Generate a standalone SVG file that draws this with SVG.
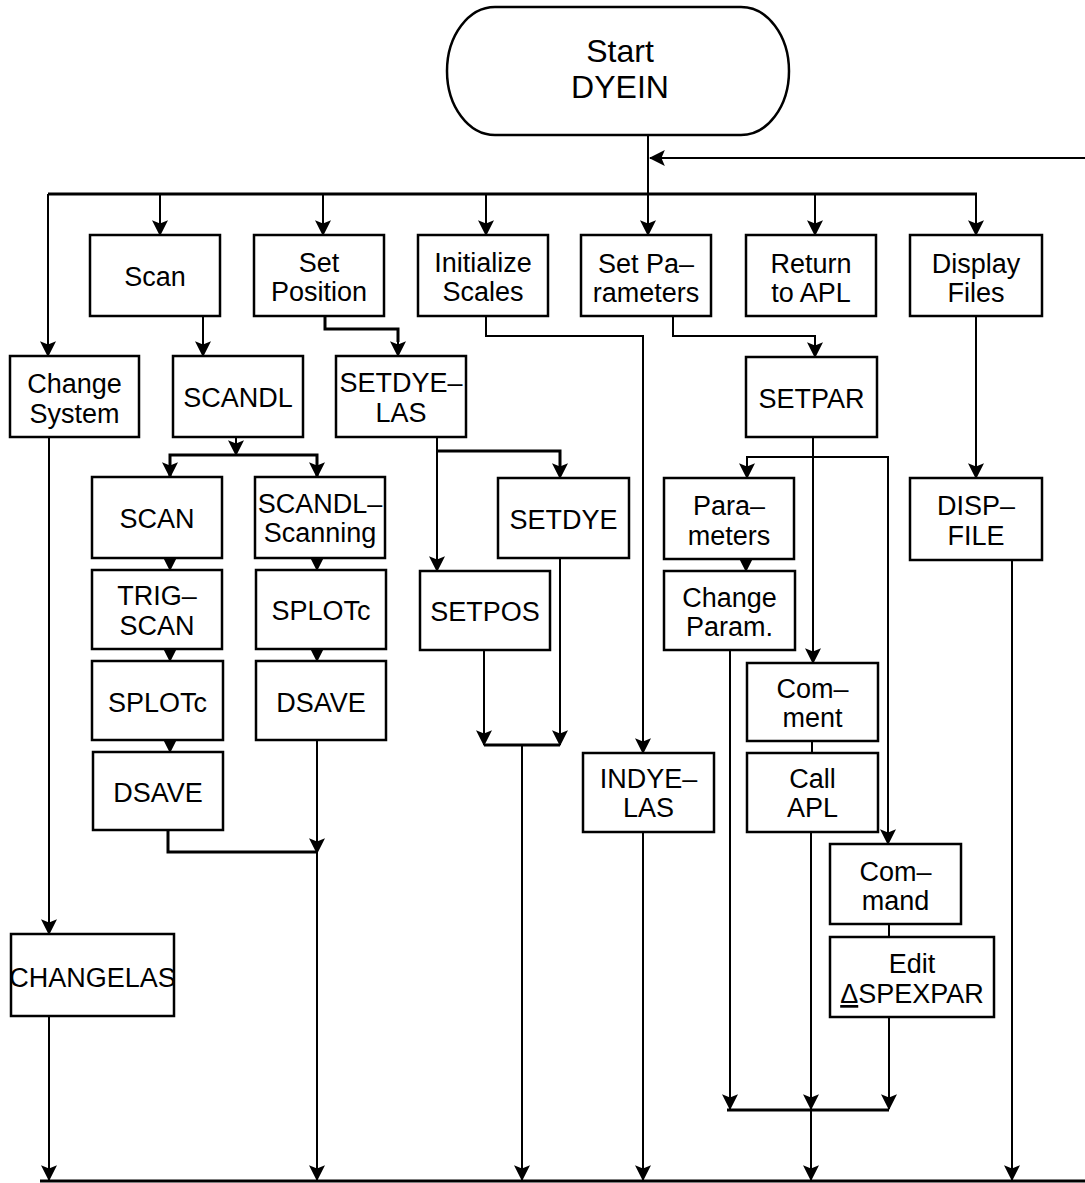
<svg xmlns="http://www.w3.org/2000/svg" width="1085" height="1183" viewBox="0 0 1085 1183">
<style>
.box{fill:#fff;stroke:#000;stroke-width:2.5}
.lbl{font-family:"Liberation Sans",Arial,sans-serif;font-size:27px;fill:#000;text-anchor:middle}
.big{font-size:32px}
.ln{fill:none;stroke:#000;stroke-width:2}
.bus{fill:none;stroke:#000;stroke-width:3}
</style>
<defs>
<marker id="ah" viewBox="0 0 14 14" markerWidth="16" markerHeight="16" refX="13" refY="7" orient="auto" markerUnits="userSpaceOnUse">
<path d="M0,0 L14,7 L0,14 L3,7 z" fill="#000"/>
</marker>
</defs>
<rect width="1085" height="1183" fill="#fff"/>
<g id="connectors">
<path class="ln" d="M648,135 V235" marker-end="url(#ah)"/>
<path class="ln" d="M1085,158 H650" marker-end="url(#ah)"/>
<path class="bus" d="M48,194 H977"/>
<path class="ln" d="M48,194 V356" marker-end="url(#ah)"/>
<path class="ln" d="M160,194 V235" marker-end="url(#ah)"/>
<path class="ln" d="M323,194 V235" marker-end="url(#ah)"/>
<path class="ln" d="M486,194 V235" marker-end="url(#ah)"/>
<path class="ln" d="M815,194 V235" marker-end="url(#ah)"/>
<path class="ln" d="M976,194 V235" marker-end="url(#ah)"/>
<path class="ln" d="M203,316 V356" marker-end="url(#ah)"/>
<path class="bus" d="M325,316 V329 H398 V342"/>
<path class="ln" d="M398,340 V356" marker-end="url(#ah)"/>
<path class="ln" d="M486,316 V336 H643 V753" marker-end="url(#ah)"/>
<path class="ln" d="M673,316 V336 H815 V357" marker-end="url(#ah)"/>
<path class="ln" d="M976,316 V478" marker-end="url(#ah)"/>
<path class="ln" d="M49,437 V934" marker-end="url(#ah)"/>
<path class="ln" d="M49,1016 V1180" marker-end="url(#ah)"/>
<path class="ln" d="M236,437 V455" marker-end="url(#ah)"/>
<path class="bus" d="M170,477 V455 H317 V477"/>
<path class="ln" d="M170,462 V477" marker-end="url(#ah)"/>
<path class="ln" d="M317,462 V477" marker-end="url(#ah)"/>
<path class="ln" d="M170,558 V570" marker-end="url(#ah)"/>
<path class="ln" d="M170,649 V661" marker-end="url(#ah)"/>
<path class="ln" d="M170,740 V752" marker-end="url(#ah)"/>
<path class="ln" d="M317,558 V570" marker-end="url(#ah)"/>
<path class="ln" d="M317,649 V661" marker-end="url(#ah)"/>
<path class="bus" d="M168,830 V852 H317"/>
<path class="ln" d="M317,740 V1180" marker-end="url(#ah)"/>
<path class="ln" d="M317,838 V853" marker-end="url(#ah)"/>
<path class="ln" d="M437,437 V571" marker-end="url(#ah)"/>
<path class="bus" d="M437,451 H560 V466"/>
<path class="ln" d="M560,464 V478" marker-end="url(#ah)"/>
<path class="ln" d="M484,649 V745" marker-end="url(#ah)"/>
<path class="ln" d="M560,558 V745" marker-end="url(#ah)"/>
<path class="bus" d="M484,745 H560"/>
<path class="ln" d="M522,745 V1180" marker-end="url(#ah)"/>
<path class="ln" d="M813,437 V663" marker-end="url(#ah)"/>
<path class="ln" d="M747,478 V457 H888 V844" marker-end="url(#ah)"/>
<path class="ln" d="M747,464 V478" marker-end="url(#ah)"/>
<path class="ln" d="M746,559 V571" marker-end="url(#ah)"/>
<path class="ln" d="M730,650 V1109" marker-end="url(#ah)"/>
<path class="ln" d="M812,741 V753"/>
<path class="ln" d="M811,832 V1109" marker-end="url(#ah)"/>
<path class="ln" d="M889,924 V937"/>
<path class="ln" d="M889,1017 V1109" marker-end="url(#ah)"/>
<path class="bus" d="M727,1110 H889"/>
<path class="ln" d="M811,1110 V1180" marker-end="url(#ah)"/>
<path class="ln" d="M643,832 V1180" marker-end="url(#ah)"/>
<path class="ln" d="M1012,560 V1180" marker-end="url(#ah)"/>
<path class="bus" d="M40,1181 H1085"/>
</g>
<g id="start"><rect class="box" x="447" y="7" width="342" height="128" rx="48" ry="64"/><text class="lbl big" x="620" y="62">Start</text><text class="lbl big" x="620" y="98">DYEIN</text></g>
<g id="scan"><rect class="box" x="90" y="235" width="130" height="81"/><text class="lbl" x="155" y="286">Scan</text></g>
<g id="setposition"><rect class="box" x="254" y="235" width="130" height="81"/><text class="lbl" x="319" y="272">Set</text><text class="lbl" x="319" y="301">Position</text></g>
<g id="initscales"><rect class="box" x="418" y="235" width="130" height="81"/><text class="lbl" x="483" y="272">Initialize</text><text class="lbl" x="483" y="301">Scales</text></g>
<g id="setparams"><rect class="box" x="581" y="235" width="130" height="81"/><text class="lbl" x="646" y="273">Set Pa–</text><text class="lbl" x="646" y="302">rameters</text></g>
<g id="returnapl"><rect class="box" x="746" y="235" width="130" height="81"/><text class="lbl" x="811" y="273">Return</text><text class="lbl" x="811" y="302">to APL</text></g>
<g id="displayfiles"><rect class="box" x="910" y="235" width="132" height="81"/><text class="lbl" x="976" y="273">Display</text><text class="lbl" x="976" y="302">Files</text></g>
<g id="changesystem"><rect class="box" x="10" y="356" width="129" height="81"/><text class="lbl" x="74.5" y="393">Change</text><text class="lbl" x="74.5" y="423">System</text></g>
<g id="scandl"><rect class="box" x="173" y="356" width="130" height="81"/><text class="lbl" x="238" y="407">SCANDL</text></g>
<g id="setdyelas"><rect class="box" x="336" y="356" width="130" height="81"/><text class="lbl" x="401" y="392">SETDYE–</text><text class="lbl" x="401" y="422">LAS</text></g>
<g id="setpar"><rect class="box" x="746" y="357" width="131" height="80"/><text class="lbl" x="811.5" y="408">SETPAR</text></g>
<g id="scanbox"><rect class="box" x="92" y="477" width="130" height="81"/><text class="lbl" x="157" y="528">SCAN</text></g>
<g id="scandlscanning"><rect class="box" x="255" y="477" width="130" height="81"/><text class="lbl" x="320" y="513">SCANDL–</text><text class="lbl" x="320" y="542">Scanning</text></g>
<g id="setdye"><rect class="box" x="498" y="478" width="131" height="80"/><text class="lbl" x="563.5" y="529">SETDYE</text></g>
<g id="parameters"><rect class="box" x="664" y="478" width="130" height="81"/><text class="lbl" x="729" y="515">Para–</text><text class="lbl" x="729" y="545">meters</text></g>
<g id="dispfile"><rect class="box" x="910" y="478" width="132" height="82"/><text class="lbl" x="976" y="515">DISP–</text><text class="lbl" x="976" y="545">FILE</text></g>
<g id="trigscan"><rect class="box" x="92" y="570" width="130" height="79"/><text class="lbl" x="157" y="605">TRIG–</text><text class="lbl" x="157" y="635">SCAN</text></g>
<g id="splotc2"><rect class="box" x="256" y="570" width="130" height="79"/><text class="lbl" x="321" y="620">SPLOTc</text></g>
<g id="setpos"><rect class="box" x="420" y="571" width="130" height="79"/><text class="lbl" x="485" y="621">SETPOS</text></g>
<g id="changeparam"><rect class="box" x="664" y="571" width="131" height="79"/><text class="lbl" x="729.5" y="607">Change</text><text class="lbl" x="729.5" y="636">Param.</text></g>
<g id="splotc1"><rect class="box" x="92" y="661" width="131" height="79"/><text class="lbl" x="157.5" y="712">SPLOTc</text></g>
<g id="dsave2"><rect class="box" x="256" y="661" width="130" height="79"/><text class="lbl" x="321" y="712">DSAVE</text></g>
<g id="comment"><rect class="box" x="747" y="663" width="131" height="78"/><text class="lbl" x="812.5" y="698">Com–</text><text class="lbl" x="812.5" y="727">ment</text></g>
<g id="dsave1"><rect class="box" x="93" y="752" width="130" height="78"/><text class="lbl" x="158" y="802">DSAVE</text></g>
<g id="indyelas"><rect class="box" x="583" y="753" width="131" height="79"/><text class="lbl" x="648.5" y="788">INDYE–</text><text class="lbl" x="648.5" y="817">LAS</text></g>
<g id="callapl"><rect class="box" x="747" y="753" width="131" height="79"/><text class="lbl" x="812.5" y="788">Call</text><text class="lbl" x="812.5" y="817">APL</text></g>
<g id="command"><rect class="box" x="830" y="844" width="131" height="80"/><text class="lbl" x="895.5" y="881">Com–</text><text class="lbl" x="895.5" y="910">mand</text></g>
<g id="changelas"><rect class="box" x="11" y="934" width="163" height="82"/><text class="lbl" x="92.5" y="987">CHANGELAS</text></g>
<g id="editspexpar"><rect class="box" x="830" y="937" width="164" height="80"/><text class="lbl" x="912" y="973">Edit</text><text class="lbl" x="912" y="1003"><tspan text-decoration="underline">Δ</tspan>SPEXPAR</text></g>
</svg>
